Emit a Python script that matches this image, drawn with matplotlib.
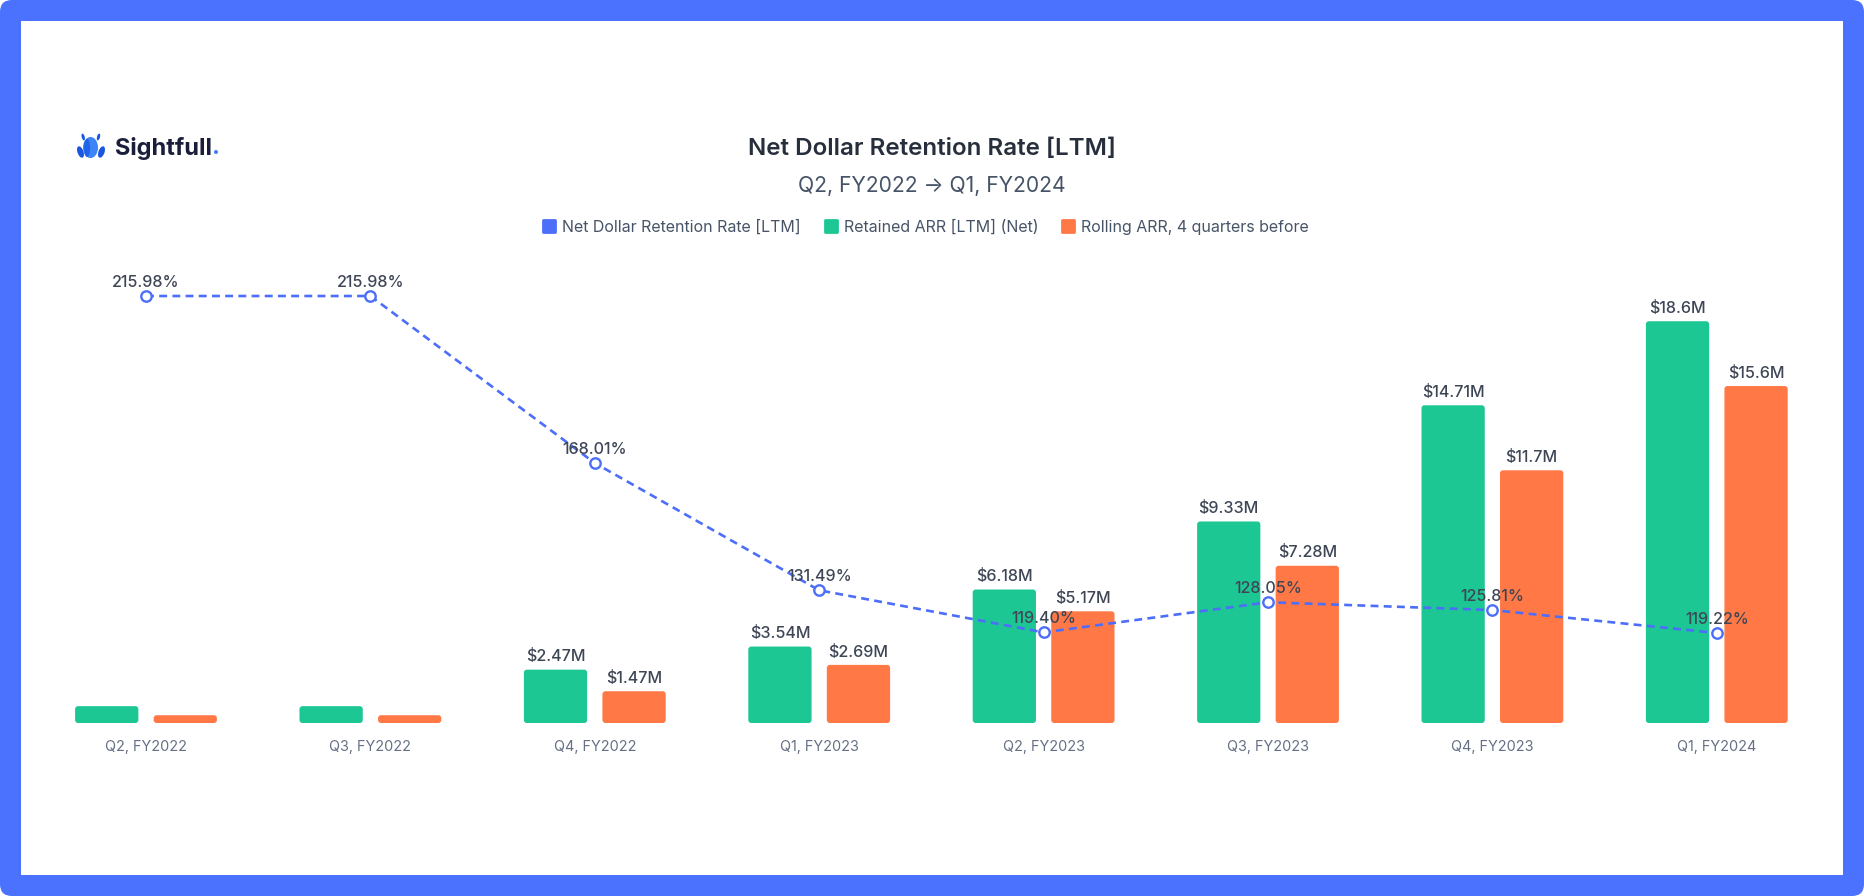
import matplotlib.pyplot as plt
import numpy as np
from matplotlib.patches import FancyBboxPatch, Rectangle, Ellipse
from matplotlib.lines import Line2D
from matplotlib.markers import MarkerStyle

plt.rcParams['font.family'] = ['Inter', 'DejaVu Sans']

# data
quarters = ['Q2, FY2022', 'Q3, FY2022', 'Q4, FY2022', 'Q1, FY2023',
            'Q2, FY2023', 'Q3, FY2023', 'Q4, FY2023', 'Q1, FY2024']
retained = [0.78, 0.78, 2.47, 3.54, 6.18, 9.33, 14.71, 18.6]
rolling = [0.36, 0.36, 1.47, 2.69, 5.17, 7.28, 11.7, 15.6]
ndr = [215.98, 215.98, 168.01, 131.49, 119.40, 128.05, 125.81, 119.22]
series_names = ['Net Dollar Retention Rate [LTM]', 'Retained ARR [LTM] (Net)',
                'Rolling ARR, 4 quarters before']

GREEN = '#1CC794'
ORANGE = '#FF7845'
BLUE = '#4C6EF9'
FRAME = '#4B72FE'
LABEL = '#3E4656'

W, H = 1864, 896
fig = plt.figure(figsize=(W / 100, H / 100), dpi=100)
fig.patch.set_facecolor('white')

# blue frame with rounded outer corners, white panel inside
fig.add_artist(FancyBboxPatch((0, 0), W / 100, H / 100, boxstyle='round,pad=0,rounding_size=0.12',
                              transform=fig.dpi_scale_trans, fc=FRAME, ec='none', zorder=-3))
fig.add_artist(Rectangle((0.21, 0.21), 18.22, 8.54, transform=fig.dpi_scale_trans,
                         fc='white', ec='none', zorder=-2))

left, right, bottom, top = 33.8, 1829, 723, 250
ax = fig.add_axes([left / W, (H - bottom) / H, (right - left) / W, (bottom - top) / H])
ax.patch.set_alpha(0)
px_per_m = 21.6
ax.set_xlim(-0.5, len(quarters) - 0.5)
ax.set_ylim(0, (bottom - top) / px_per_m)

x = np.arange(len(quarters))
bw, off = 0.282, 0.175
bars_g = ax.bar(x - off, retained, bw, color=GREEN)
bars_o = ax.bar(x + off, rolling, bw, color=ORANGE)

# swap plain rectangles for rounded ones
x_per_px = 1 / ((right - left) / len(quarters))
aspect = (1 / px_per_m) / x_per_px
for rect in list(bars_g) + list(bars_o):
    rect.set_visible(False)
    rb = FancyBboxPatch((rect.get_x(), rect.get_y()), rect.get_width(), rect.get_height(),
                        boxstyle='round,pad=0,rounding_size=%f' % (3 * x_per_px),
                        mutation_aspect=aspect, fc=rect.get_facecolor(), ec='none', zorder=2)
    ax.add_patch(rb)

for xi, v in zip(x, retained):
    if v >= 1:
        ax.annotate('$%gM' % v, (xi - off, v), xytext=(0, 6), textcoords='offset points',
                    ha='center', va='baseline', fontsize=11.6, fontweight='medium',
                    color=LABEL, parse_math=False)
for xi, v in zip(x, rolling):
    if v >= 1:
        ax.annotate('$%gM' % v, (xi + off, v), xytext=(0, 6), textcoords='offset points',
                    ha='center', va='baseline', fontsize=11.6, fontweight='medium',
                    color=LABEL, parse_math=False)

ax.set_xticks(x, quarters)
ax.tick_params(axis='x', length=0, pad=12, labelsize=10.4, labelcolor='#667085')
ax.set_yticks([])
for s in ax.spines.values():
    s.set_visible(False)

# line on its own scale
ax2 = ax.twinx()
ax2.set_ylim(93.38, 229.19)
ax2.plot(x, ndr, color=BLUE, lw=1.9, ls=(0, (3, 2)), marker='o', ms=7.5,
         mfc='white', mec=BLUE, mew=1.7, zorder=3)
for xi, v in zip(x, ndr):
    ax2.annotate('%.2f%%' % v, (xi, v), xytext=(0, 6.5), textcoords='offset points',
                 ha='center', va='baseline', fontsize=11.6, fontweight='medium', color=LABEL)
ax2.set_yticks([])
for s in ax2.spines.values():
    s.set_visible(False)

# titles
fig.text(932 / W, 1 - 149 / H, 'Net Dollar Retention Rate [LTM]', ha='center', va='center',
         fontsize=17.4, fontweight='semibold', color='#272F3D')
fig.text(932 / W, 1 - 186 / H, 'Q2, FY2022 \u2192 Q1, FY2024', ha='center', va='center',
         fontsize=15.2, color='#475467')

# legend
sq = MarkerStyle('s', joinstyle='round')
handles = [Line2D([], [], ls='none', marker=sq, ms=8, mew=2, color=c)
           for c in (BLUE, GREEN, ORANGE)]
fig.legend(handles, series_names, loc='center', bbox_to_anchor=(925 / W, 1 - 227 / H),
           ncol=3, frameon=False, fontsize=11.5, labelcolor='#475467',
           handletextpad=0.3, columnspacing=1.4, handlelength=1.0)

# logo
lax = fig.add_axes([75 / W, 1 - 160 / H, 32 / W, 28 / H])
lax.set_xlim(75, 107)
lax.set_ylim(160, 132)
lax.axis('off')
lax.add_patch(Ellipse((80.5, 152), 6, 12, angle=-20, fc='#1A56DE', ec='none'))
lax.add_patch(Ellipse((101.5, 152), 6, 12, angle=20, fc='#1A56DE', ec='none'))
lax.add_patch(Ellipse((83.2, 137), 3, 7, angle=-15, fc='#1A56DE', ec='none'))
lax.add_patch(Ellipse((98.5, 137), 3, 7, angle=15, fc='#1A56DE', ec='none'))
lax.add_patch(Ellipse((90.5, 147.5), 15, 21, fc='#3C84F7', ec='none'))
lax.add_patch(Ellipse((87, 148), 6, 18, fc='#1F63E8', ec='none'))

logo = fig.text(115 / W, 1 - 148 / H, 'Sightfull', ha='left', va='center',
                fontsize=17, fontweight='bold', color='#1B1E3A')
fig.canvas.draw()
bb = logo.get_window_extent()
fig.text(bb.x1 / W, 1 - 148 / H, '.', ha='left', va='center',
         fontsize=17, fontweight='bold', color='#3F7BF7')

fig.savefig('out.png', dpi=100)
